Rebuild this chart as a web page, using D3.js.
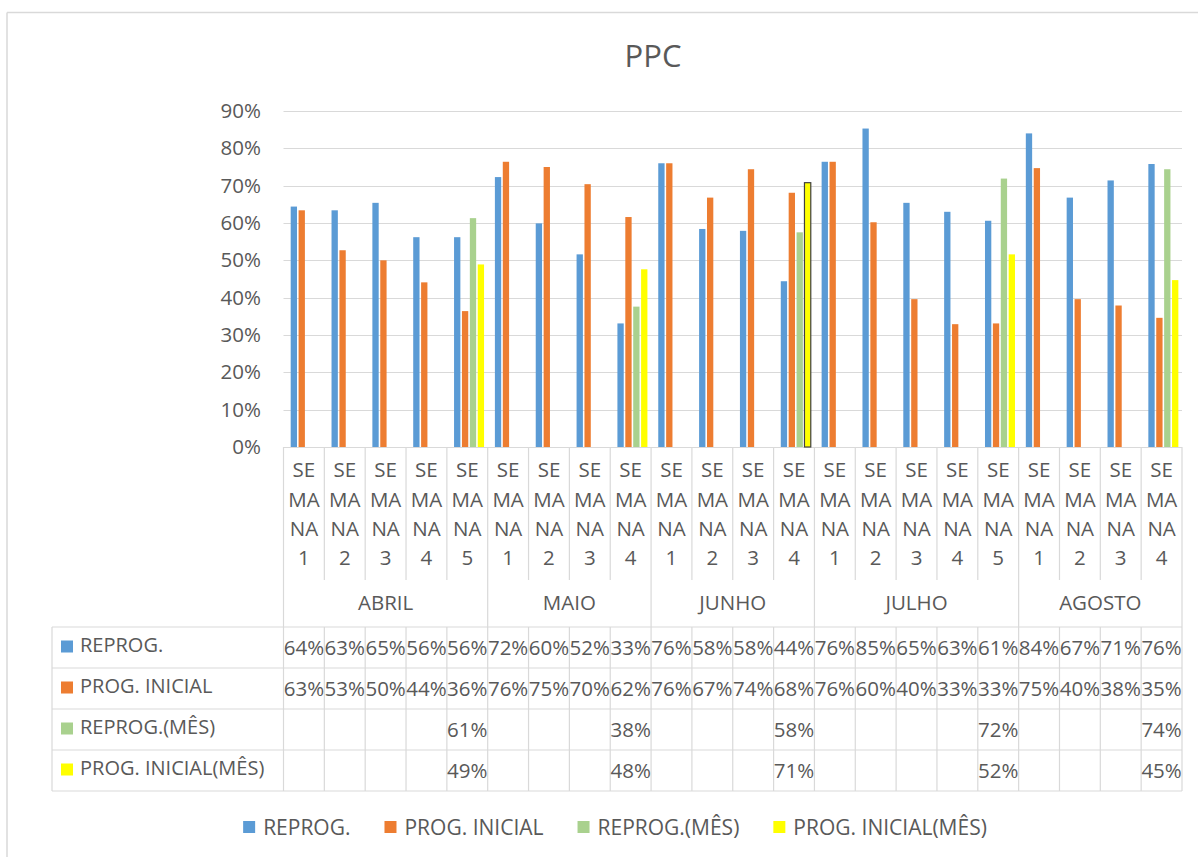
<!DOCTYPE html>
<html>
<head>
<meta charset="utf-8">
<script src="https://cdn.jsdelivr.net/npm/d3@7"></script>
<style>
  body { margin: 0; background: #fff; }
  text { font-family: "Open Sans", sans-serif; fill: #595959; }
</style>
</head>
<body>
<svg id="chart" width="1198" height="857"></svg>
<script>
// ---------------- DATA ----------------
const title = "PPC";
const months = ["ABRIL", "MAIO", "JUNHO", "JULHO", "AGOSTO"];
const categoryMonth = ["ABRIL","ABRIL","ABRIL","ABRIL","ABRIL",
  "MAIO","MAIO","MAIO","MAIO",
  "JUNHO","JUNHO","JUNHO","JUNHO",
  "JULHO","JULHO","JULHO","JULHO","JULHO",
  "AGOSTO","AGOSTO","AGOSTO","AGOSTO"];
const categoryWeek = ["SEMANA 1","SEMANA 2","SEMANA 3","SEMANA 4","SEMANA 5",
  "SEMANA 1","SEMANA 2","SEMANA 3","SEMANA 4",
  "SEMANA 1","SEMANA 2","SEMANA 3","SEMANA 4",
  "SEMANA 1","SEMANA 2","SEMANA 3","SEMANA 4","SEMANA 5",
  "SEMANA 1","SEMANA 2","SEMANA 3","SEMANA 4"];
const seriesNames = ["REPROG.", "PROG. INICIAL", "REPROG.(MÊS)", "PROG. INICIAL(MÊS)"];
const seriesColors = ["#5B9BD5", "#ED7D31", "#A9D18E", "#FFFF00"];
const reprog =      [64.4,63.4,65.4,56.2,56.2,72.3,59.9,51.6,33.1,76.0,58.4,57.9,44.4,76.4,85.3,65.4,63.0,60.6,84.0,66.8,71.4,75.8];
const progInicial = [63.4,52.7,50.0,44.1,36.4,76.4,75.0,70.4,61.6,76.0,66.8,74.4,68.1,76.4,60.2,39.6,32.9,33.1,74.7,39.6,37.9,34.6];
const reprogMes =   [null,null,null,null,61.3,null,null,null,37.6,null,null,null,57.5,null,null,null,null,71.9,null,null,null,74.4];
const progInicialMes = [null,null,null,null,48.9,null,null,null,47.6,null,null,null,70.8,null,null,null,null,51.6,null,null,null,44.7];
const yTicks = [0, 10, 20, 30, 40, 50, 60, 70, 80, 90];
const highlightedPoint = { series: 3, index: 12 };

// ---------------- LAYOUT ----------------
const series = [reprog, progInicial, reprogMes, progInicialMes];
const svg = d3.select("#chart");
const plotLeft = 283.5, plotRight = 1182, plotTop = 111, plotBottom = 447;
const gridColor = "#d9d9d9";
const cats = d3.range(categoryWeek.length);

const x0 = d3.scaleBand().domain(cats).range([plotLeft, plotRight]).padding(0);
const y = d3.scaleLinear().domain([0, 90]).range([plotBottom, plotTop]);
const bw = x0.bandwidth();
const x1 = d3.scaleBand().domain(d3.range(4)).range([bw * 0.176, bw * 0.176 + 30]).paddingInner(0.2).paddingOuter(0);

// chart border (top & left visible)
svg.append("line").attr("x1", 7).attr("x2", 1198).attr("y1", 12.5).attr("y2", 12.5)
  .attr("stroke", gridColor).attr("stroke-width", 1.5);
svg.append("line").attr("x1", 7).attr("x2", 7).attr("y1", 12.5).attr("y2", 857)
  .attr("stroke", gridColor).attr("stroke-width", 1.5);

// title
svg.append("text").attr("x", 653).attr("y", 67).attr("text-anchor", "middle")
  .style("font-size", "31px").text(title);

// gridlines
svg.append("g").selectAll("line").data(yTicks).join("line")
  .attr("x1", plotLeft).attr("x2", plotRight)
  .attr("y1", d => Math.round(y(d)) + 0.5).attr("y2", d => Math.round(y(d)) + 0.5)
  .attr("stroke", gridColor).attr("stroke-width", 1.2);

// y axis labels via d3 axis
const yAxis = d3.axisLeft(y).tickValues(yTicks).tickFormat(d => d + "%").tickSize(0).tickPadding(0);
const gy = svg.append("g").attr("transform", `translate(261,0)`).call(yAxis);
gy.select(".domain").remove();
gy.selectAll("text").style("font-size", "20.5px").style("font-family", "Open Sans").attr("fill", "#595959");

// bars
series.forEach((vals, s) => {
  svg.append("g").selectAll("rect").data(vals.map((v, i) => ({ v, i })).filter(d => d.v !== null))
    .join("rect")
    .attr("x", d => x0(d.i) + x1(s))
    .attr("width", x1.bandwidth())
    .attr("y", d => y(d.v))
    .attr("height", d => y(0) - y(d.v))
    .attr("fill", seriesColors[s])
    .attr("stroke", d => (s === highlightedPoint.series && d.i === highlightedPoint.index) ? "#404040" : "none")
    .attr("stroke-width", 1.2);
});

// category axis area: week separators
const weekBottom = 580, tableRows = [627, 668, 709, 750, 791];
const isMonthBoundary = i => i === 0 || i === cats.length || categoryMonth[i] !== categoryMonth[i - 1];
const boundaries = d3.range(cats.length + 1);
svg.append("g").selectAll("line").data(boundaries).join("line")
  .attr("x1", i => (i < cats.length ? x0(i) : plotRight))
  .attr("x2", i => (i < cats.length ? x0(i) : plotRight))
  .attr("y1", plotBottom)
  .attr("y2", i => isMonthBoundary(i) ? tableRows[0] : weekBottom)
  .attr("stroke", gridColor).attr("stroke-width", 1.2);

// week labels (wrapped)
const lineYs = [470, 500, 529, 558];
cats.forEach(i => {
  const [word, num] = categoryWeek[i].split(" ");
  const parts = [];
  for (let k = 0; k < word.length; k += 2) parts.push(word.slice(k, k + 2));
  parts.push(num);
  parts.forEach((p, k) => {
    svg.append("text").attr("x", x0(i) + bw / 2).attr("y", lineYs[k]).attr("dy", "0.36em")
      .attr("text-anchor", "middle").style("font-size", "20.5px").text(p);
  });
});

// month labels
months.forEach(m => {
  const idx = cats.filter(i => categoryMonth[i] === m);
  const x1m = x0(idx[0]), x2m = x0(idx[idx.length - 1]) + bw;
  svg.append("text").attr("x", (x1m + x2m) / 2).attr("y", 603).attr("dy", "0.36em")
    .attr("text-anchor", "middle").style("font-size", "20.5px").text(m);
});

// data table
const tableLeft = 52;
svg.append("g").selectAll("line").data(tableRows).join("line")
  .attr("x1", tableLeft).attr("x2", plotRight).attr("y1", d => d).attr("y2", d => d)
  .attr("stroke", gridColor).attr("stroke-width", 1.2);
svg.append("g").selectAll("line").data(boundaries).join("line")
  .attr("x1", i => (i < cats.length ? x0(i) : plotRight))
  .attr("x2", i => (i < cats.length ? x0(i) : plotRight))
  .attr("y1", tableRows[0]).attr("y2", tableRows[4])
  .attr("stroke", gridColor).attr("stroke-width", 1.2);
svg.append("line").attr("x1", tableLeft).attr("x2", tableLeft).attr("y1", tableRows[0]).attr("y2", tableRows[4])
  .attr("stroke", gridColor).attr("stroke-width", 1.2);

const pct = d3.format(".0f");
series.forEach((vals, s) => {
  const cy = (tableRows[s] + tableRows[s + 1]) / 2 - 1;
  svg.append("rect").attr("x", 61).attr("y", cy - 6).attr("width", 12).attr("height", 12).attr("fill", seriesColors[s]);
  svg.append("text").attr("x", 80).attr("y", cy - 2).attr("dy", "0.36em").style("font-size", "20px").text(seriesNames[s]);
  vals.forEach((v, i) => {
    if (v === null) return;
    svg.append("text").attr("x", x0(i) + bw / 2).attr("y", cy + 1).attr("dy", "0.36em")
      .attr("text-anchor", "middle").style("font-size", "20.5px").text(pct(v) + "%");
  });
});

// legend
const legend = svg.append("g");
let lx = 0;
const items = [];
const legendGap = 34;
seriesNames.forEach((name, s) => {
  const g = legend.append("g");
  g.append("rect").attr("x", 0).attr("y", -6).attr("width", 12).attr("height", 12).attr("fill", seriesColors[s]);
  const t = g.append("text").attr("x", 20).attr("y", 0).attr("dy", "0.36em").style("font-size", "21px").text(name);
  items.push({ g, w: 20 + t.node().getComputedTextLength() });
});
items.forEach(it => { it.g.attr("transform", `translate(${lx},0)`); lx += it.w + legendGap; });
const totalW = lx - legendGap;
legend.attr("transform", `translate(${615 - totalW / 2},827)`);
</script>
</body>
</html>
